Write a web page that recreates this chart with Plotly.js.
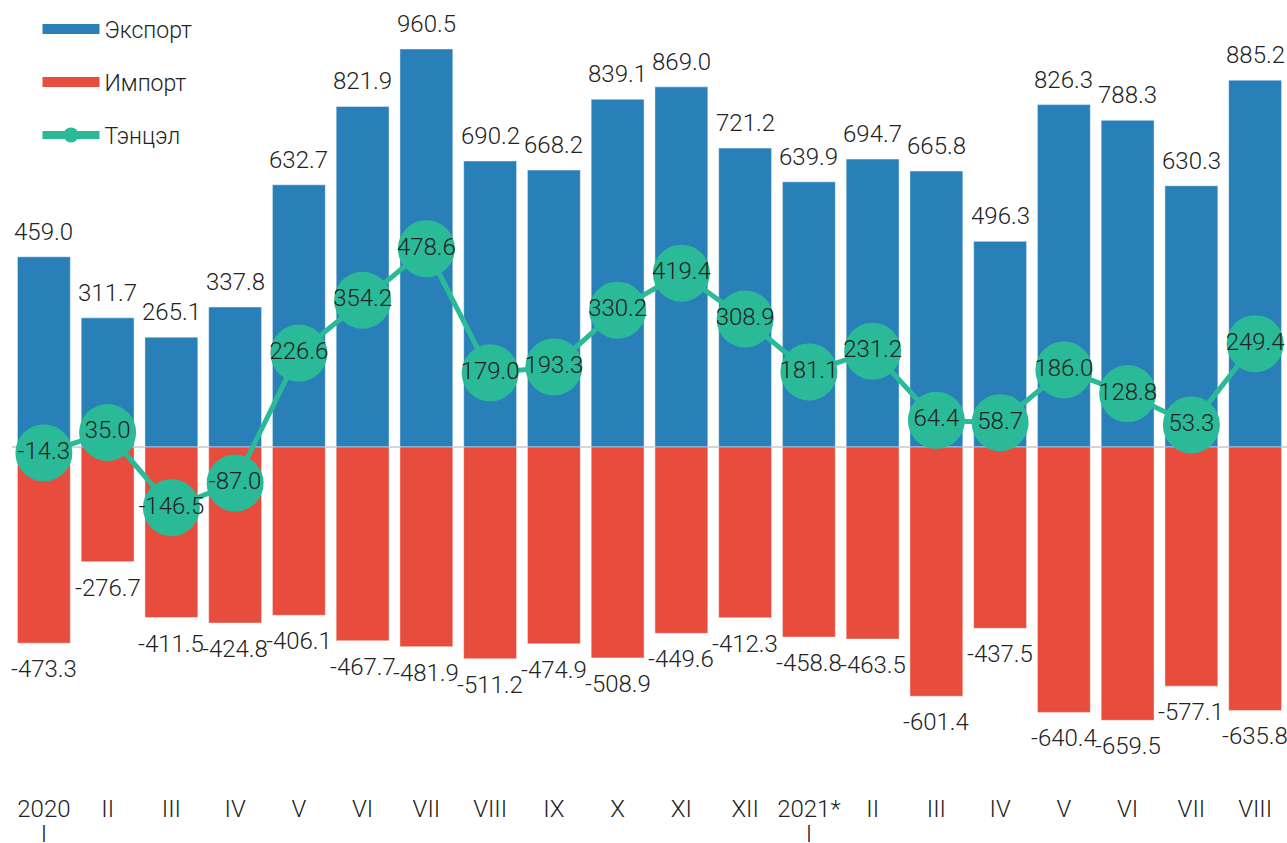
<!DOCTYPE html>
<html>
<head>
<meta charset="utf-8">
<script src="https://cdn.plot.ly/plotly-3.0.1.min.js"></script>
<style>html,body{margin:0;padding:0;background:#fff;}#chart{width:1287px;height:843px;}</style>
</head>
<body>
<div id="chart"></div>
<script>
const tickLabels = ["2020<br>I","II","III","IV","V","VI","VII","VIII","IX","X","XI","XII","2021*<br>I","II","III","IV","V","VI","VII","VIII"];
const exportValues = [459.0,311.7,265.1,337.8,632.7,821.9,960.5,690.2,668.2,839.1,869.0,721.2,639.9,694.7,665.8,496.3,826.3,788.3,630.3,885.2];
const importValues = [-473.3,-276.7,-411.5,-424.8,-406.1,-467.7,-481.9,-511.2,-474.9,-508.9,-449.6,-412.3,-458.8,-463.5,-601.4,-437.5,-640.4,-659.5,-577.1,-635.8];
const balanceValues = [-14.3,35.0,-146.5,-87.0,226.6,354.2,478.6,179.0,193.3,330.2,419.4,308.9,181.1,231.2,64.4,58.7,186.0,128.8,53.3,249.4];
const seriesNames = ["Экспорт","Импорт","Тэнцэл"];

const xs = tickLabels.map((_, i) => i);
const BLUE = "#2980b9", RED = "#e74c3c", GREEN = "#2bba98";
const FONT = {family: "Roboto, sans-serif", size: 24, color: "#222", weight: 300};
const LFONT = {family: "Roboto, sans-serif", size: 23, color: "#222", weight: 300};
const TFONT = {family: "Roboto, sans-serif", size: 19, color: "#222", weight: 300};
const fmt = v => v.toFixed(1);
const tickText = tickLabels.map(t => t.split("<br>").map(p => "<span style='font-size:24px'>" + p + "</span>").join("<br>"));

const traces = [
  {type: "bar", x: xs, y: exportValues, name: seriesNames[0], showlegend: false,
   marker: {color: BLUE, line: {color: "rgba(255,255,255,0.45)", width: 1}}, hoverinfo: "y"},
  {type: "bar", x: xs, y: importValues, name: seriesNames[1], showlegend: false,
   marker: {color: RED, line: {color: "rgba(255,255,255,0.45)", width: 1}}, hoverinfo: "y"},
  {type: "scatter", mode: "lines+markers+text", x: xs, y: balanceValues, name: seriesNames[2], showlegend: false,
   line: {color: GREEN, width: 5}, marker: {color: GREEN, size: 57},
   text: balanceValues.map(fmt), textposition: "middle center", textfont: FONT, cliponaxis: false},
  // legend entries
  {type: "scatter", mode: "lines", x: [null], y: [null], name: seriesNames[0], line: {color: BLUE, width: 13}, legendgroup: "a"},
  {type: "scatter", mode: "lines", x: [null], y: [null], name: seriesNames[1], line: {color: RED, width: 13}, legendgroup: "b"},
  {type: "scatter", mode: "lines+markers", x: [null], y: [null], name: seriesNames[2], line: {color: GREEN, width: 8}, marker: {color: GREEN, size: 15}, legendgroup: "c"}
];

const annotations = [];
xs.forEach(i => {
  annotations.push({x: xs[i], y: exportValues[i], text: fmt(exportValues[i]), showarrow: false,
    yanchor: "bottom", yshift: 9, font: FONT});
  annotations.push({x: xs[i], y: importValues[i], text: fmt(importValues[i]), showarrow: false,
    yanchor: "top", yshift: -10, font: FONT});
});

const layout = {
  width: 1287, height: 843,
  margin: {l: 12, r: 0, t: 10, b: 53},
  paper_bgcolor: "#fff", plot_bgcolor: "#fff",
  barmode: "relative", bargap: 0.17,
  font: FONT,
  xaxis: {tickmode: "array", tickvals: xs, ticktext: tickText, range: [-0.5, 19.5],
          showgrid: false, zeroline: false, showline: false, ticks: "", tickfont: TFONT,
          ticklabelstandoff: 7, fixedrange: true},
  yaxis: {range: [-827.7, 1054.5], showgrid: false, showticklabels: false, ticks: "",
          zeroline: true, zerolinecolor: "#d6d6d6", zerolinewidth: 2, fixedrange: true},
  legend: {x: 0.02, y: 1.003, xanchor: "left", yanchor: "top", bgcolor: "rgba(0,0,0,0)",
           traceorder: "grouped", tracegroupgap: 20, itemwidth: 57, font: LFONT},
  annotations: annotations,
  showlegend: true
};

Plotly.newPlot("chart", traces, layout, {displayModeBar: false, staticPlot: true});
</script>
</body>
</html>
